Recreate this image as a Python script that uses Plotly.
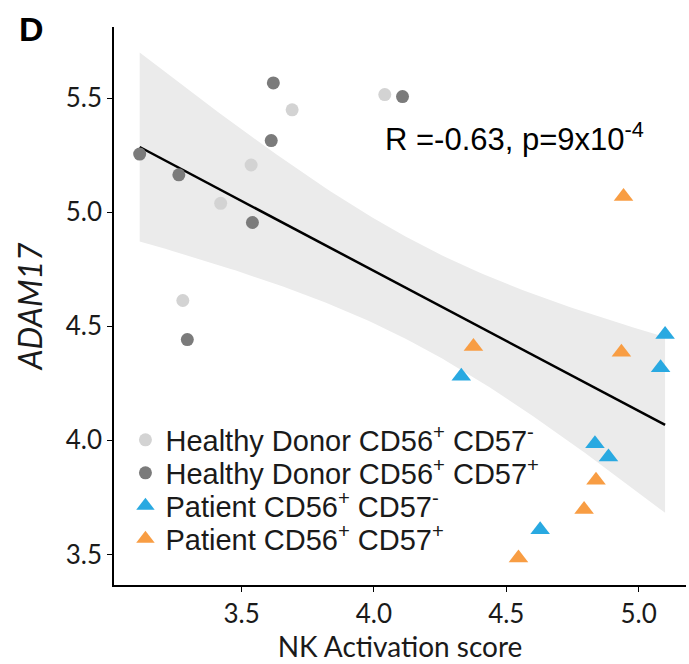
import numpy as np
import plotly.graph_objects as go

# Healthy Donor CD56+ CD57-
hd_neg_x = [4.041, 3.691, 3.536, 3.421, 3.278]
hd_neg_y = [5.516, 5.449, 5.207, 5.039, 4.613]
# Healthy Donor CD56+ CD57+
hd_pos_x = [3.115, 3.263, 3.541, 3.612, 3.620, 4.108, 3.295]
hd_pos_y = [5.255, 5.164, 4.955, 5.314, 5.567, 5.507, 4.442]
# Patient CD56+ CD57-
pt_neg_x = [5.100, 5.083, 4.330, 4.835, 4.886, 4.628]
pt_neg_y = [4.464, 4.318, 4.281, 3.985, 3.927, 3.608]
# Patient CD56+ CD57+
pt_pos_x = [4.943, 4.376, 4.935, 4.839, 4.794, 4.546]
pt_pos_y = [5.069, 4.412, 4.386, 3.825, 3.697, 3.484]

x_ticks = [3.5, 4.0, 4.5, 5.0]
y_ticks = [3.5, 4.0, 4.5, 5.0, 5.5]
annot_text = "R =-0.63, p=9x10<sup>-4</sup>"

# linear fit + 95% confidence band
X = np.array(hd_neg_x + hd_pos_x + pt_neg_x + pt_pos_x)
Y = np.array(hd_neg_y + hd_pos_y + pt_neg_y + pt_pos_y)
n = len(X)
b, a = np.polyfit(X, Y, 1)
xs = np.linspace(X.min(), X.max(), 100)
ys = a + b * xs
resid = Y - (a + b * X)
s = np.sqrt(np.sum(resid ** 2) / (n - 2))
sxx = np.sum((X - X.mean()) ** 2)
tval = 2.074
se = s * np.sqrt(1.0 / n + (xs - X.mean()) ** 2 / sxx)
upper = ys + tval * se
lower = ys - tval * se

fig = go.Figure()
fig.add_trace(go.Scatter(
    x=np.concatenate([xs, xs[::-1]]), y=np.concatenate([upper, lower[::-1]]),
    fill="toself", fillcolor="#ebebeb", line=dict(width=0), mode="lines",
    hoverinfo="skip", showlegend=False))
fig.add_trace(go.Scatter(x=xs, y=ys, mode="lines", line=dict(color="black", width=2.5),
                         showlegend=False))

ax_font = "Lato, sans-serif"
leg_font = "Liberation Sans, Arial, sans-serif"
txt_col = "#1a1a1a"

fig.add_trace(go.Scatter(x=hd_neg_x, y=hd_neg_y, mode="markers", legend="legend",
                         marker=dict(symbol="circle", size=13, color="#d3d3d3"),
                         name="Healthy Donor CD56<sup>+</sup> CD57<sup>-</sup>"))
fig.add_trace(go.Scatter(x=hd_pos_x, y=hd_pos_y, mode="markers", legend="legend2",
                         marker=dict(symbol="circle", size=13, color="#7b7b7b"),
                         name="Healthy Donor CD56<sup>+</sup> CD57<sup>+</sup>"))
fig.add_trace(go.Scatter(x=pt_neg_x, y=pt_neg_y, mode="markers", legend="legend3",
                         marker=dict(symbol="triangle-up", size=17, color="#29a9e1"),
                         name="Patient CD56<sup>+</sup> CD57<sup>-</sup>"))
fig.add_trace(go.Scatter(x=pt_pos_x, y=pt_pos_y, mode="markers", legend="legend4",
                         marker=dict(symbol="triangle-up", size=17, color="#f89d43"),
                         name="Patient CD56<sup>+</sup> CD57<sup>+</sup>"))

# plot area in pixels: x 114..686, y 27..585
def px_to_paper_y(py):
    return 1 - (py - 27) / 558

def px_to_paper_x(px):
    return (px - 114) / 572

def leg(py):
    return dict(x=0.02, y=px_to_paper_y(py), xanchor="left", yanchor="middle",
                bgcolor="rgba(0,0,0,0)", font=dict(size=29, family=leg_font, color=txt_col),
                itemwidth=30)

fig.update_layout(
    width=689, height=664,
    margin=dict(l=114, r=3, t=27, b=79),
    plot_bgcolor="white", paper_bgcolor="white",
    font=dict(family=ax_font, color=txt_col),
    showlegend=True,
    legend=leg(440), legend2=leg(473), legend3=leg(506), legend4=leg(539),
    xaxis=dict(range=[3.018, 5.179], tickvals=x_ticks, ticktext=[f"{v:.1f}" for v in x_ticks],
               showgrid=False, zeroline=False, showline=True, linecolor="black", linewidth=1.5,
               ticks="outside", ticklen=5, tickcolor="black",
               tickfont=dict(size=26, family=ax_font, color=txt_col),
               title=dict(text="NK Activation score", font=dict(size=28, family=ax_font, color=txt_col),
                          standoff=6)),
    yaxis=dict(range=[3.366, 5.812], tickvals=y_ticks, ticktext=[f"{v:.1f}" for v in y_ticks],
               showgrid=False, zeroline=False, showline=True, linecolor="black", linewidth=1.5,
               ticks="outside", ticklen=5, tickcolor="black",
               tickfont=dict(size=26, family=ax_font, color=txt_col),
               title=dict(text="<i>ADAM17</i>", font=dict(size=32, family=ax_font, color=txt_col),
                          standoff=14)),
    annotations=[
        dict(x=px_to_paper_x(514), y=px_to_paper_y(137), xref="paper", yref="paper",
             text=annot_text, showarrow=False, xanchor="center", yanchor="middle",
             font=dict(size=31, family=leg_font, color="black")),
        dict(x=px_to_paper_x(31), y=px_to_paper_y(29), xref="paper", yref="paper",
             text="<b>D</b>", showarrow=False, xanchor="center", yanchor="middle",
             font=dict(size=34, family=leg_font, color="black")),
    ],
)
fig.write_html("out.html")
